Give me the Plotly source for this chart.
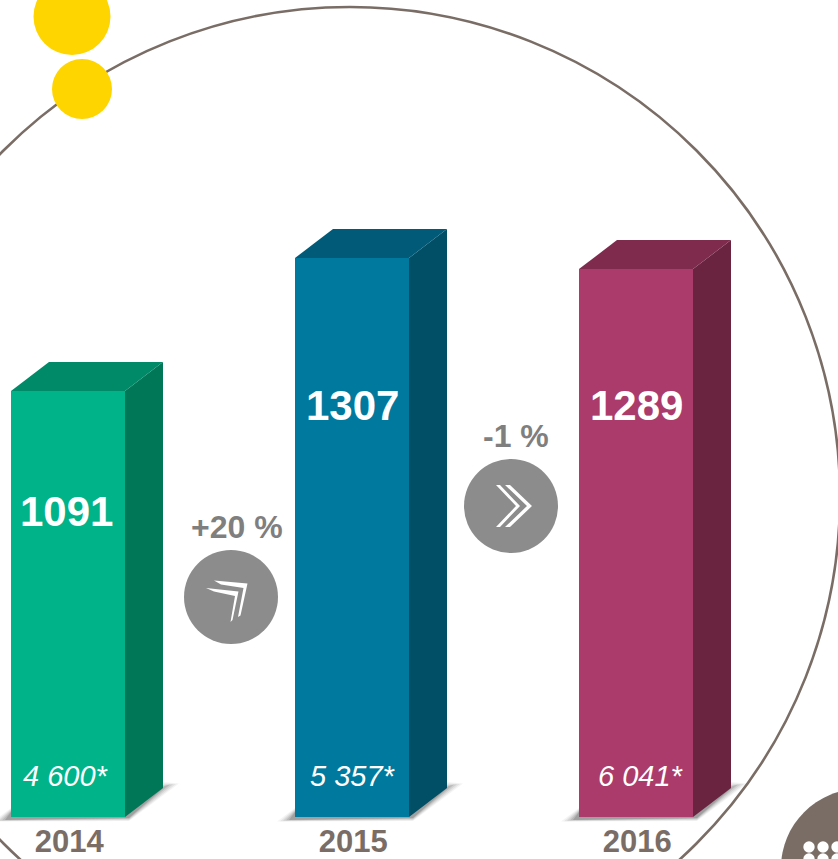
import plotly.graph_objects as go

# ---- data ----
years = ["2014", "2015", "2016"]
values = [1091, 1307, 1289]
sub_labels = ["4 600*", "5 357*", "6 041*"]
changes = ["+20 %", "-1 %"]

front_colors = ["#00B388", "#00799E", "#AB3B6B"]
side_colors = ["#007858", "#004F66", "#6A2440"]
top_colors = ["#008A68", "#005A78", "#7E2B4E"]
BROWN = "#7A6D66"
GREY = "#7F7F7F"
FONT = "Liberation Sans"

# ---- canvas / axis layout ----
W, H = 838, 859
PLOT_BOTTOM = 817            # px row of the axis line
AXIS_BASE = 399.15           # truncated axis start
PX_PER_UNIT = 0.61574
PX_PER_CAT = 284
FIRST_CENTER = 68
AXIS_TOP = AXIS_BASE + PLOT_BOTTOM / PX_PER_UNIT
BAR_W = 114 / PX_PER_CAT
DX = 38 / PX_PER_CAT         # 3D depth, category units
DY = 29 / PX_PER_UNIT        # 3D depth, value units
idx = list(range(len(years)))


def px(x):
    return x / W


def py(y):
    return (PLOT_BOTTOM - y) / PLOT_BOTTOM


def disc(cx, cy, r, color, line=None, lw=0):
    return dict(type="circle", xref="paper", yref="paper", layer="below",
                x0=px(cx - r), x1=px(cx + r), y0=py(cy + r), y1=py(cy - r),
                fillcolor=color if line is None else "rgba(0,0,0,0)",
                line=dict(color=line or color, width=lw))


def poly(points, fill):
    d = "M" + " L".join(f"{px(x):.5f},{py(y):.5f}" for x, y in points) + " Z"
    return dict(type="path", xref="paper", yref="paper", layer="below", path=d,
                fillcolor=fill, line=dict(width=0))


shapes = [disc(350, 497, 490, None, line=BROWN, lw=2.6),
          disc(72, 16.5, 38.5, "#FFD500"),
          disc(82, 89, 30, "#FFD500"),
          disc(860, 868, 79, BROWN)]
for dot_y in (847, 859):
    for dot_x in (809, 823, 837):
        shapes.append(disc(dot_x, dot_y, 5.7, "#FFFFFF"))

# soft floor shadows, layered to imitate the blur
for x0 in (11, 295, 579):
    for grow, alpha in ((12, 0.06), (9, 0.09), (6, 0.12), (3, 0.16), (0, 0.22)):
        shapes.append(poly([(x0 - 6 - grow, 820 + grow / 8), (x0, 812 - grow / 3), (x0 + 152, 788 - grow / 2),
                            (x0 + 156 + grow, 785 - grow / 8), (x0 + 118, 818 + grow / 4)],
                           f"rgba(70,70,70,{alpha})"))

# change badges
shapes += [disc(231, 597, 47, "#8C8C8C"), disc(511, 506, 47, "#8C8C8C")]
shapes += [
    poly([(214, 580.5), (247.5, 583.5), (240.5, 615.5), (238, 617), (243.5, 588), (221, 584.5)], "white"),
    poly([(206, 588), (238.5, 591.5), (232.5, 620), (230.5, 622), (235, 596), (214, 591.5)], "white"),
    poly([(496, 485), (500, 485), (520, 506), (500, 527), (496, 527), (516, 506)], "white"),
    poly([(505, 485), (510, 485), (532, 506), (510, 527), (505, 527), (527, 506)], "white"),
]

fig = go.Figure()
fig.add_trace(go.Bar(x=idx, y=[v - AXIS_BASE for v in values], base=AXIS_BASE, width=BAR_W,
                     marker=dict(color=front_colors, line=dict(width=0)), showlegend=False))
for i, v, side, top in zip(idx, values, side_colors, top_colors):
    r = i + BAR_W / 2
    l = i - BAR_W / 2
    fig.add_trace(go.Scatter(x=[r, r + DX, r + DX, r, r], y=[v, v + DY, AXIS_BASE + DY, AXIS_BASE, v],
                             mode="lines", fill="toself", fillcolor=side, line=dict(width=0),
                             showlegend=False, hoverinfo="skip"))
    fig.add_trace(go.Scatter(x=[l, l + DX, r + DX, r, l], y=[v, v + DY, v + DY, v, v],
                             mode="lines", fill="toself", fillcolor=top, line=dict(width=0),
                             showlegend=False, hoverinfo="skip"))

annotations = []
for i, v, sub, row, shift, sub_shift in zip(idx, values, sub_labels, (512, 405, 405), (-2, 0, 0), (-2, 1, 4.5)):
    annotations.append(dict(x=i, y=py(row), xref="x", yref="paper", text=str(v), showarrow=False,
                            xshift=shift, xanchor="center", yanchor="middle",
                            font=dict(family=FONT, size=42, color="white", weight="bold")))
    annotations.append(dict(x=i, y=py(776), xref="x", yref="paper", text=f"<i>{sub}</i>", showarrow=False,
                            xshift=sub_shift, xanchor="center", yanchor="middle",
                            font=dict(family=FONT, size=29, color="white")))
for i, text, row, shift in zip((0.5, 1.5), changes, (527, 436), (26.5, 22)):
    annotations.append(dict(x=i, y=py(row), xref="x", yref="paper", text=text, showarrow=False,
                            xshift=shift, xanchor="center", yanchor="middle",
                            font=dict(family=FONT, size=32, color=GREY, weight="bold")))

fig.update_layout(
    width=W, height=H, margin=dict(l=0, r=0, t=0, b=H - PLOT_BOTTOM, pad=0, autoexpand=False),
    paper_bgcolor="white", plot_bgcolor="rgba(0,0,0,0)", shapes=shapes, annotations=annotations,
    xaxis=dict(range=[-FIRST_CENTER / PX_PER_CAT, (W - FIRST_CENTER) / PX_PER_CAT],
               tickmode="array", tickvals=[i + 1.2 / PX_PER_CAT for i in idx], ticktext=years,
               showgrid=False, zeroline=False,
               showline=False, ticks="", ticklabelstandoff=3, automargin=False,
               tickfont=dict(family=FONT, size=31, color=BROWN, weight="bold")),
    yaxis=dict(range=[AXIS_BASE, AXIS_TOP], visible=False),
)
fig.write_html("out.html", config={"displayModeBar": False},
               post_script="document.body.style.margin='0';document.body.style.overflow='hidden';")
